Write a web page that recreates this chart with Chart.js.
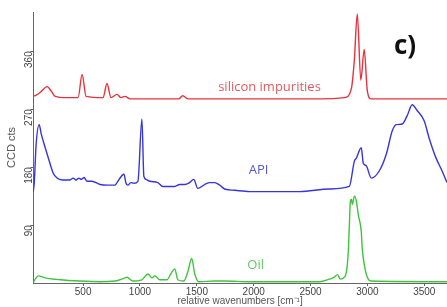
<!DOCTYPE html>
<html>
<head>
<meta charset="utf-8">
<script src="https://cdn.jsdelivr.net/npm/chart.js@4"></script>
<style>
  html, body { margin: 0; padding: 0; background: #fff; }
  #wrap { width: 447px; height: 307px; position: relative; }
</style>
</head>
<body>
<div id="wrap"><canvas id="chartSpectra"></canvas></div>
<script>
// ค่าอ่านจากภาพ (wavenumber, CCD cts)
const siliconX = [61, 87, 122, 184, 220, 254, 350, 456, 491, 526, 675, 710, 745, 798, 833, 868, 912, 1200, 1340, 1377, 1420, 2000, 2600, 2797, 2859, 2885, 2911, 2942, 2972, 2999, 3034, 3300, 3700];
const siliconY = [290, 292, 296, 305, 298, 290, 288, 288, 324, 290, 288, 310, 288, 293, 288, 290, 286, 286, 286, 291, 286, 286, 286, 288, 302, 346, 418, 315, 363, 299, 286, 286, 286];

const apiX = [61, 70, 87, 114, 131, 157, 184, 210, 236, 271, 315, 385, 412, 438, 464, 482, 508, 535, 578, 649, 719, 780, 798, 859, 877, 894, 920, 947, 982, 1017, 1034, 1052, 1087, 1157, 1201, 1306, 1350, 1394, 1429, 1473, 1508, 1569, 1613, 1657, 1701, 1745, 1833, 1964, 2403, 2666, 2841, 2885, 2903, 2946, 2964, 2990, 3034, 3104, 3166, 3218, 3253, 3306, 3350, 3394, 3437, 3499, 3543, 3604, 3657, 3700];
const apiY = [142, 155, 216, 246, 232, 216, 200, 185, 171, 163, 160, 160, 163, 160, 163, 161, 164, 158, 158, 153, 152, 152, 156, 169, 155, 152, 156, 155, 158, 255, 166, 161, 158, 156, 150, 150, 153, 153, 155, 161, 147, 153, 156, 156, 152, 146, 144, 142, 142, 146, 150, 189, 194, 210, 186, 182, 163, 174, 200, 236, 246, 247, 260, 277, 268, 252, 225, 194, 174, 156];

const oilX = [61, 87, 105, 166, 298, 473, 649, 780, 868, 885, 938, 1017, 1070, 1105, 1131, 1175, 1236, 1280, 1306, 1333, 1385, 1420, 1455, 1482, 1517, 1657, 1745, 1964, 2578, 2666, 2710, 2736, 2762, 2797, 2815, 2832, 2841, 2850, 2859, 2867, 2885, 2903, 2920, 2946, 2955, 2973, 2999, 3034, 3700];
const oilY = [1, 8, 11, 8, 5, 3, 2, 3, 8, 9, 3, 5, 14, 8, 11, 5, 5, 17, 22, 5, 3, 17, 38, 14, 2, 3, 3, 2, 2, 6, 9, 13, 6, 9, 17, 49, 88, 127, 130, 122, 135, 127, 106, 80, 53, 28, 9, 3, 2];

const xTicks = [500, 1000, 1500, 2000, 2500, 3000, 3500];
const yTicks = [90, 180, 270, 360];

const seriesLabels = [
  { text: 'silicon impurities', x: 2139, y: 304, color: '#e25a60' },
  { text: 'API', x: 2043, y: 175, color: '#5a5ad8' },
  { text: 'Oil', x: 2017, y: 28, color: '#62c862' }
];

const toPts = (xs, ys) => xs.map((x, i) => ({ x, y: ys[i] }));

const labelPlugin = {
  id: 'seriesLabels',
  afterDatasetsDraw(chart) {
    const { ctx, scales: { x, y }, chartArea } = chart;
    ctx.save();
    ctx.font = '13px "Open Sans", sans-serif';
    ctx.textAlign = 'center';
    ctx.textBaseline = 'middle';
    seriesLabels.forEach(l => {
      ctx.fillStyle = l.color;
      ctx.fillText(l.text, x.getPixelForValue(l.x), y.getPixelForValue(l.y));
    });
    ctx.fillStyle = '#111';
    ctx.font = 'bold 26px "Open Sans", sans-serif';
    ctx.fillText('c)', chartArea.right - 42, chartArea.top + 35);
    ctx.restore();
  }
};

const lineDs = (label, xs, ys, color) => ({
  label, data: toPts(xs, ys), borderColor: color, borderWidth: 1.4,
  pointRadius: 0, cubicInterpolationMode: 'monotone', fill: false
});

new Chart(document.getElementById('chartSpectra'), {
  type: 'line',
  data: {
    datasets: [
      lineDs('silicon impurities', siliconX, siliconY, '#e8323c'),
      lineDs('API', apiX, apiY, '#3535dc'),
      lineDs('Oil', oilX, oilY, '#3ec43e')
    ]
  },
  options: {
    responsive: true, maintainAspectRatio: false, animation: false,
    layout: { padding: { top: 12, right: 0, left: 5, bottom: 0 } },
    plugins: { legend: { display: false }, tooltip: { enabled: false } },
    scales: {
      x: {
        type: 'linear', min: 61, max: 3700,
        afterBuildTicks: s => { s.ticks = xTicks.map(v => ({ value: v })); },
        grid: { drawOnChartArea: false, tickLength: 3, color: '#666' },
        border: { color: '#666' },
        ticks: { color: '#444', font: { size: 10, family: 'Arial' }, padding: 0, maxRotation: 0, callback: v => String(v) },
        title: { display: true, text: 'relative wavenumbers [cm⁻¹]', color: '#555', font: { size: 10, family: 'Arial' }, padding: { top: -3, bottom: 0 } }
      },
      y: {
        type: 'linear', min: 0, max: 421,
        afterBuildTicks: s => { s.ticks = yTicks.map(v => ({ value: v })); },
        grid: { drawOnChartArea: false, tickLength: 3, color: '#666' },
        border: { color: '#666' },
        ticks: { color: '#444', font: { size: 10, family: 'Arial' }, padding: 1, minRotation: 90, maxRotation: 90, callback: v => String(v) },
        title: { display: true, text: 'CCD cts', color: '#555', font: { size: 11, family: 'Arial' }, padding: { top: 0, bottom: -2 } }
      }
    }
  },
  plugins: [labelPlugin]
});
</script>
</body>
</html>
